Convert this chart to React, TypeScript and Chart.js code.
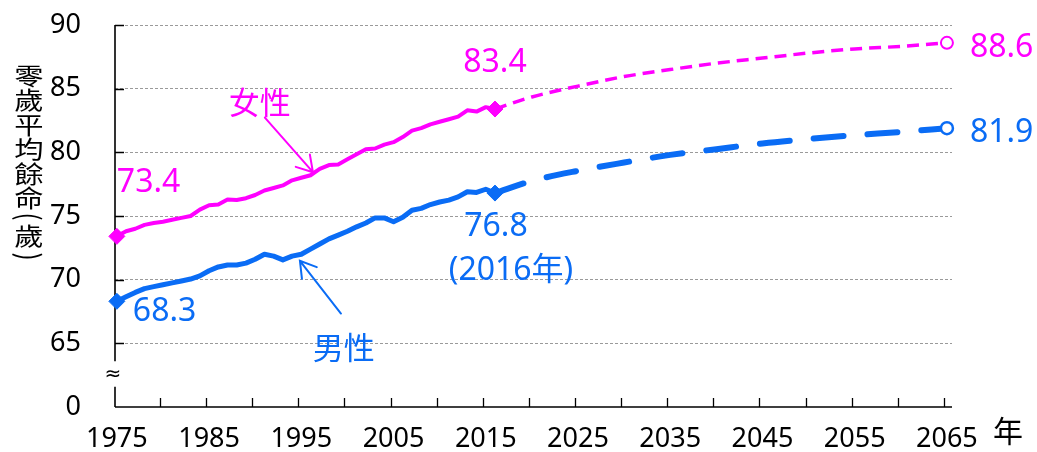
import React, { useEffect, useRef } from 'react';
import { Chart, registerables } from 'chart.js';

Chart.register(...registerables);

// ---------- data ----------
const actualYears = [
  1975, 1976, 1977, 1978, 1979, 1980, 1981, 1982, 1983, 1984,
  1985, 1986, 1987, 1988, 1989, 1990, 1991, 1992, 1993, 1994,
  1995, 1996, 1997, 1998, 1999, 2000, 2001, 2002, 2003, 2004,
  2005, 2006, 2007, 2008, 2009, 2010, 2011, 2012, 2013, 2014,
  2015, 2016,
];
const femaleActual = [
  73.4, 73.8, 74.0, 74.3, 74.45, 74.55, 74.7, 74.85, 75.0, 75.5,
  75.85, 75.9, 76.3, 76.25, 76.4, 76.65, 77.0, 77.2, 77.4, 77.8,
  78.0, 78.2, 78.7, 79.0, 79.05, 79.45, 79.85, 80.25, 80.3, 80.6,
  80.8, 81.2, 81.7, 81.9, 82.2, 82.4, 82.6, 82.8, 83.3, 83.2,
  83.55, 83.4,
];
const maleActual = [
  68.3, 68.65, 69.0, 69.3, 69.45, 69.6, 69.75, 69.9, 70.05, 70.3,
  70.7, 71.0, 71.15, 71.15, 71.3, 71.6, 72.0, 71.85, 71.55, 71.85,
  72.0, 72.4, 72.8, 73.2, 73.5, 73.8, 74.15, 74.45, 74.85, 74.85,
  74.55, 74.9, 75.45, 75.6, 75.9, 76.1, 76.25, 76.5, 76.9, 76.85,
  77.1, 76.8,
];
const projYears = [2016, 2020, 2025, 2030, 2035, 2040, 2045, 2050, 2055, 2060, 2065];
const femaleProj = [83.4, 84.35, 85.2, 85.95, 86.5, 87.0, 87.4, 87.8, 88.12, 88.32, 88.6];
const maleProj = [76.8, 77.75, 78.55, 79.2, 79.8, 80.25, 80.7, 81.05, 81.35, 81.6, 81.9];

const yTickValues = [60, 65, 70, 75, 80, 85, 90];
const yTickText = ['0', '65', '70', '75', '80', '85', '90'];
const xLabelYears = [1975, 1985, 1995, 2005, 2015, 2025, 2035, 2045, 2055, 2065];

const femaleName = '女性';
const maleName = '男性';
const femaleStartText = '73.4';
const femaleNowText = '83.4';
const femaleEndText = '88.6';
const maleStartText = '68.3';
const maleNowText = '76.8';
const maleNowYearText = '(2016年)';
const maleEndText = '81.9';
const yTitleChars = ['零', '歲', '平', '均', '餘', '命', '(', '歲', ')'];
const xUnit = '年';

// ---------- style ----------
const MAGENTA = '#FF00FF';
const BLUE = '#0A6CF5';
const NUM_FONT = '"Noto Sans", "DejaVu Sans", sans-serif';
const CJK_FONT = '"Noto Sans", "Noto Sans CJK TC", sans-serif';

const decorPlugin = {
  id: 'decor',
  beforeDatasetsDraw(chart: any) {
    const { ctx, chartArea, scales } = chart;
    const { left, right, top, bottom } = chartArea;
    const x = scales.x;
    const y = scales.y;
    ctx.save();
    ctx.strokeStyle = '#000';
    ctx.lineWidth = 1.6;
    // y axis with break
    ctx.beginPath();
    ctx.moveTo(left, top);
    ctx.lineTo(left, y.getPixelForValue(63.6));
    ctx.moveTo(left, y.getPixelForValue(61.6));
    ctx.lineTo(left, bottom);
    // x axis
    ctx.moveTo(left, bottom);
    ctx.lineTo(right, bottom);
    ctx.stroke();
    // inward ticks
    ctx.lineWidth = 1.3;
    ctx.beginPath();
    for (const v of yTickValues) {
      if (v === 60) continue;
      const py = Math.round(y.getPixelForValue(v)) + 0.5;
      ctx.moveTo(left, py);
      ctx.lineTo(left + 9, py);
    }
    for (let i = 0; i < xLabelYears.length; i++) {
      const yr = xLabelYears[i];
      for (const t of [yr, yr + 5]) {
        if (t <= 1975 || t > 2065) continue;
        const px = Math.round(x.getPixelForValue(t) - 3) + 0.5;
        ctx.moveTo(px, bottom);
        ctx.lineTo(px, bottom - 9);
      }
    }
    ctx.stroke();
    // break mark
    ctx.fillStyle = '#000';
    ctx.font = `20px ${NUM_FONT}`;
    ctx.textAlign = 'center';
    ctx.textBaseline = 'middle';
    ctx.fillText('≈', left - 2, y.getPixelForValue(62.55));
    ctx.restore();
  },
  afterDraw(chart: any) {
    const { ctx, chartArea, scales } = chart;
    const x = scales.x;
    const y = scales.y;
    const X = (v: number) => x.getPixelForValue(v);
    const Y = (v: number) => y.getPixelForValue(v);
    ctx.save();

    // y title, stacked vertically
    const titleY = [76, 100, 124.5, 149, 173.5, 197.5, 216.5, 235.5, 256.5];
    ctx.fillStyle = '#000';
    ctx.font = `24px "Noto Sans CJK TC", sans-serif`;
    ctx.textAlign = 'center';
    ctx.textBaseline = 'middle';
    yTitleChars.forEach((c, i) => {
      ctx.save();
      ctx.translate(29, titleY[i]);
      if (c === '(' || c === ')') {
        ctx.rotate(Math.PI / 2);
        ctx.scale(1, 1.25);
      } else {
        ctx.scale(1.22, 1);
      }
      ctx.fillText(c, 0, 0);
      ctx.restore();
    });

    // unit 年
    ctx.font = `30px "Noto Sans CJK TC", sans-serif`;
    ctx.textAlign = 'left';
    ctx.fillText(xUnit, chartArea.right + 41, chartArea.bottom + 24);

    // numeric labels
    ctx.textBaseline = 'alphabetic';
    ctx.font = `32px ${NUM_FONT}`;
    ctx.fillStyle = MAGENTA;
    ctx.textAlign = 'left';
    ctx.fillText(femaleStartText, X(1975), Y(femaleActual[0]) - 44);
    ctx.textAlign = 'center';
    ctx.fillText(femaleNowText, X(2016), Y(femaleActual[femaleActual.length - 1]) - 37);
    ctx.textAlign = 'left';
    ctx.fillText(femaleEndText, X(2065) + 23, Y(femaleProj[femaleProj.length - 1]) + 14);

    ctx.fillStyle = BLUE;
    ctx.fillText(maleStartText, X(1975) + 16, Y(maleActual[0]) + 20);
    ctx.textAlign = 'center';
    ctx.fillText(maleNowText, X(2016) + 1, Y(maleActual[maleActual.length - 1]) + 43);
    ctx.font = `32px ${CJK_FONT}`;
    ctx.fillText(maleNowYearText, X(2016) + 16, Y(maleActual[maleActual.length - 1]) + 87);
    ctx.font = `32px ${NUM_FONT}`;
    ctx.textAlign = 'left';
    ctx.fillText(maleEndText, X(2065) + 23, Y(maleProj[maleProj.length - 1]) + 14);

    // series names
    ctx.font = `31px "Noto Sans CJK TC", sans-serif`;
    ctx.textAlign = 'center';
    ctx.textBaseline = 'middle';
    ctx.fillStyle = MAGENTA;
    ctx.fillText(femaleName, X(1990.5), Y(83.95));
    ctx.fillStyle = BLUE;
    ctx.fillText(maleName, X(1999.6), Y(64.7));

    // arrows
    const arrow = (x1: number, y1: number, x2: number, y2: number, color: string) => {
      const ax = X(x1), ay = Y(y1), bx = X(x2), by = Y(y2);
      const ang = Math.atan2(by - ay, bx - ax);
      const len = 18;
      const spread = 0.55;
      ctx.strokeStyle = color;
      ctx.lineWidth = 2;
      ctx.lineCap = 'round';
      ctx.beginPath();
      ctx.moveTo(ax, ay);
      ctx.lineTo(bx, by);
      ctx.moveTo(bx - len * Math.cos(ang - spread), by - len * Math.sin(ang - spread));
      ctx.lineTo(bx, by);
      ctx.lineTo(bx - len * Math.cos(ang + spread), by - len * Math.sin(ang + spread));
      ctx.stroke();
    };
    arrow(1991.05, 82.73, 1996.26, 78.44, MAGENTA);
    arrow(1999.3, 67.34, 1994.85, 71.48, BLUE);

    ctx.restore();
  },
};

export default function App() {
  const ref = useRef<HTMLCanvasElement>(null);

  useEffect(() => {
    if (!ref.current) return;
    const lastF = femaleActual.length - 1;
    const lastM = maleActual.length - 1;
    const lastP = projYears.length - 1;
    const chart = new Chart(ref.current, {
      type: 'line',
      data: {
        datasets: [
          {
            label: '女性推計',
            data: projYears.map((yr, i) => ({ x: yr, y: femaleProj[i] })),
            borderColor: MAGENTA,
            borderWidth: 3.5,
            borderDash: [12, 7],
            cubicInterpolationMode: 'monotone',
            pointStyle: 'circle',
            pointRadius: (c: any) => (c.dataIndex === lastP ? 6 : 0),
            pointBackgroundColor: '#fff',
            pointBorderColor: MAGENTA,
            pointBorderWidth: 2,
            clip: false,
          },
          {
            label: '男性推計',
            data: projYears.map((yr, i) => ({ x: yr, y: maleProj[i] })),
            borderColor: BLUE,
            borderWidth: 6,
            borderDash: [30, 24],
            borderCapStyle: 'round',
            cubicInterpolationMode: 'monotone',
            pointStyle: 'circle',
            pointRadius: (c: any) => (c.dataIndex === lastP ? 6 : 0),
            pointBackgroundColor: '#fff',
            pointBorderColor: BLUE,
            pointBorderWidth: 2.5,
            clip: false,
          },
          {
            label: '女性',
            data: actualYears.map((yr, i) => ({ x: yr, y: femaleActual[i] })),
            borderColor: MAGENTA,
            backgroundColor: MAGENTA,
            borderWidth: 4,
            borderJoinStyle: 'round',
            tension: 0,
            pointStyle: 'rectRot',
            pointRadius: (c: any) => (c.dataIndex === 0 || c.dataIndex === lastF ? 8 : 0),
            pointBackgroundColor: MAGENTA,
            pointBorderColor: MAGENTA,
            pointBorderWidth: 1,
            clip: false,
          },
          {
            label: '男性',
            data: actualYears.map((yr, i) => ({ x: yr, y: maleActual[i] })),
            borderColor: BLUE,
            backgroundColor: BLUE,
            borderWidth: 5,
            borderJoinStyle: 'round',
            tension: 0,
            pointStyle: 'rectRot',
            pointRadius: (c: any) => (c.dataIndex === 0 || c.dataIndex === lastM ? 8 : 0),
            pointBackgroundColor: BLUE,
            pointBorderColor: BLUE,
            pointBorderWidth: 1,
            clip: false,
          },
        ],
      },
      options: {
        responsive: false,
        animation: false,
        devicePixelRatio: 1,
        layout: { padding: { left: 0, top: 25, right: 85, bottom: 0 } },
        plugins: { legend: { display: false }, tooltip: { enabled: false } },
        scales: {
          x: {
            type: 'linear',
            min: 1974.8,
            max: 2065.55,
            grid: { display: false, drawTicks: false },
            border: { display: false },
            afterFit: (s: any) => {
              s.height = 45;
              s.paddingLeft = 0;
              s.paddingRight = 0;
            },
            ticks: {
              stepSize: 5,
              includeBounds: false,
              autoSkip: false,
              maxRotation: 0,
              padding: 16,
              color: '#000',
              font: { family: NUM_FONT, size: 27 },
              callback: (v: any) => (xLabelYears.includes(Number(v)) ? String(v) : ''),
            },
          },
          y: {
            type: 'linear',
            min: 60,
            max: 90,
            afterFit: (s: any) => {
              s.width = 115;
              s.paddingTop = 0;
              s.paddingBottom = 0;
            },
            grid: {
              drawTicks: false,
              color: (c: any) => (c.tick && c.tick.value === 60 ? 'rgba(0,0,0,0)' : '#9a9a9a'),
              lineWidth: 1,
            },
            border: { display: false, dash: [3, 2] },
            ticks: {
              stepSize: 5,
              padding: 34,
              color: '#000',
              font: { family: NUM_FONT, size: 27 },
              callback: (v: any) => {
                const i = yTickValues.indexOf(Number(v));
                return i >= 0 ? yTickText[i] : '';
              },
            },
          },
        },
      },
      plugins: [decorPlugin],
    } as any);
    return () => chart.destroy();
  }, []);

  return (
    <div style={{ position: 'fixed', left: 0, top: 0, width: 1037, height: 452, background: '#fff' }}>
      <canvas ref={ref} width={1037} height={452} style={{ display: 'block' }} />
    </div>
  );
}
